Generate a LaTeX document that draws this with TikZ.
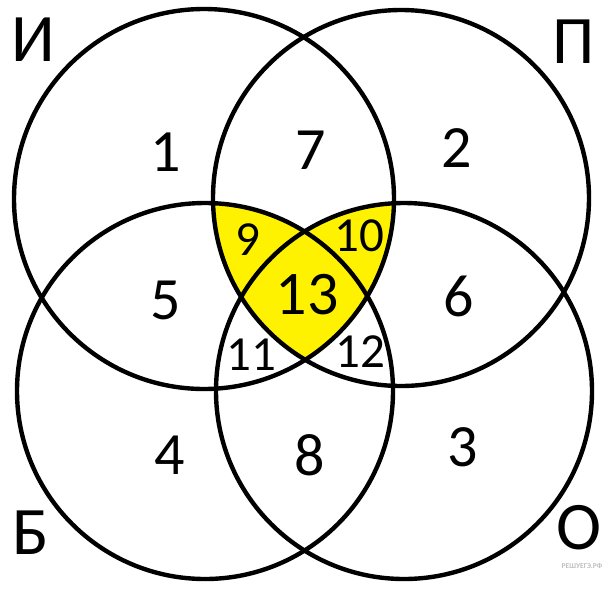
\documentclass[tikz,border=0pt]{standalone}
\usepackage{fontspec}
\setmainfont{Carlito}
\usepackage{tikz}

\definecolor{venn yellow}{RGB}{255,242,0}

\begin{document}
\begin{tikzpicture}[x=1pt,y=-1pt]
		% Define styles for the circles and the labels
		\tikzset{set circle/.style={line width=4.4pt}}
		\tikzset{set label/.style={inner sep=0pt, font=\fontsize{68}{68}\selectfont}}
		\tikzset{region/.style={inner sep=0pt, font=\fontsize{60}{60}\selectfont}}
		\tikzset{small region/.style={inner sep=0pt, font=\fontsize{49}{49}\selectfont}}
		
		% Fix the picture size
		\useasboundingbox (0,0) rectangle (608,592);
		
		% Fill the yellow part: inside И and П, and inside Б or О
		\begin{scope}
			\clip (204,199) circle (190);
			\clip (401,198) circle (188);
			\fill[venn yellow] (205,391) circle (188);
			\fill[venn yellow] (404,391) circle (188);
		\end{scope}
		
		% Draw the four circles
		\draw[set circle] (204,199) circle (190);
		\draw[set circle] (401,198) circle (188);
		\draw[set circle] (205,391) circle (188);
		\draw[set circle] (404,391) circle (188);
		
		% Add the set names
		\node[set label] (nameI) at (33,40) {И};
		\node[set label] (nameP) at (574,42) {П};
		\node[set label] (nameB) at (31,533) {Б};
		\node[set label] (nameO) at (579,528) {О};
		
		% Add the region numbers
		\node[region] (r1) at (166,152) {1};
		\node[region] (r2) at (457,148) {2};
		\node[region] (r3) at (463,447) {3};
		\node[region] (r4) at (170,455) {4};
		\node[region] (r5) at (166,300) {5};
		\node[region] (r6) at (459,296) {6};
		\node[region] (r7) at (311,150) {7};
		\node[region] (r8) at (310,455) {8};
		\node[small region] (r9) at (248,240) {9};
		\node[small region] (r10) at (359,236) {10};
		\node[small region] (r11) at (251,355) {11};
		\node[small region] (r12) at (360,352) {12};
		\node[inner sep=0pt, font=\fontsize{62}{62}\selectfont] (r13) at (307,295) {13};
		
		% Optional: the site mark in the corner
		\node[inner sep=0pt, font=\bfseries\fontsize{7.5}{7.5}\selectfont, text=black!25] (mark) at (582,566) {РЕШУЕГЭ.РФ};
	\end{tikzpicture}
\end{document}
